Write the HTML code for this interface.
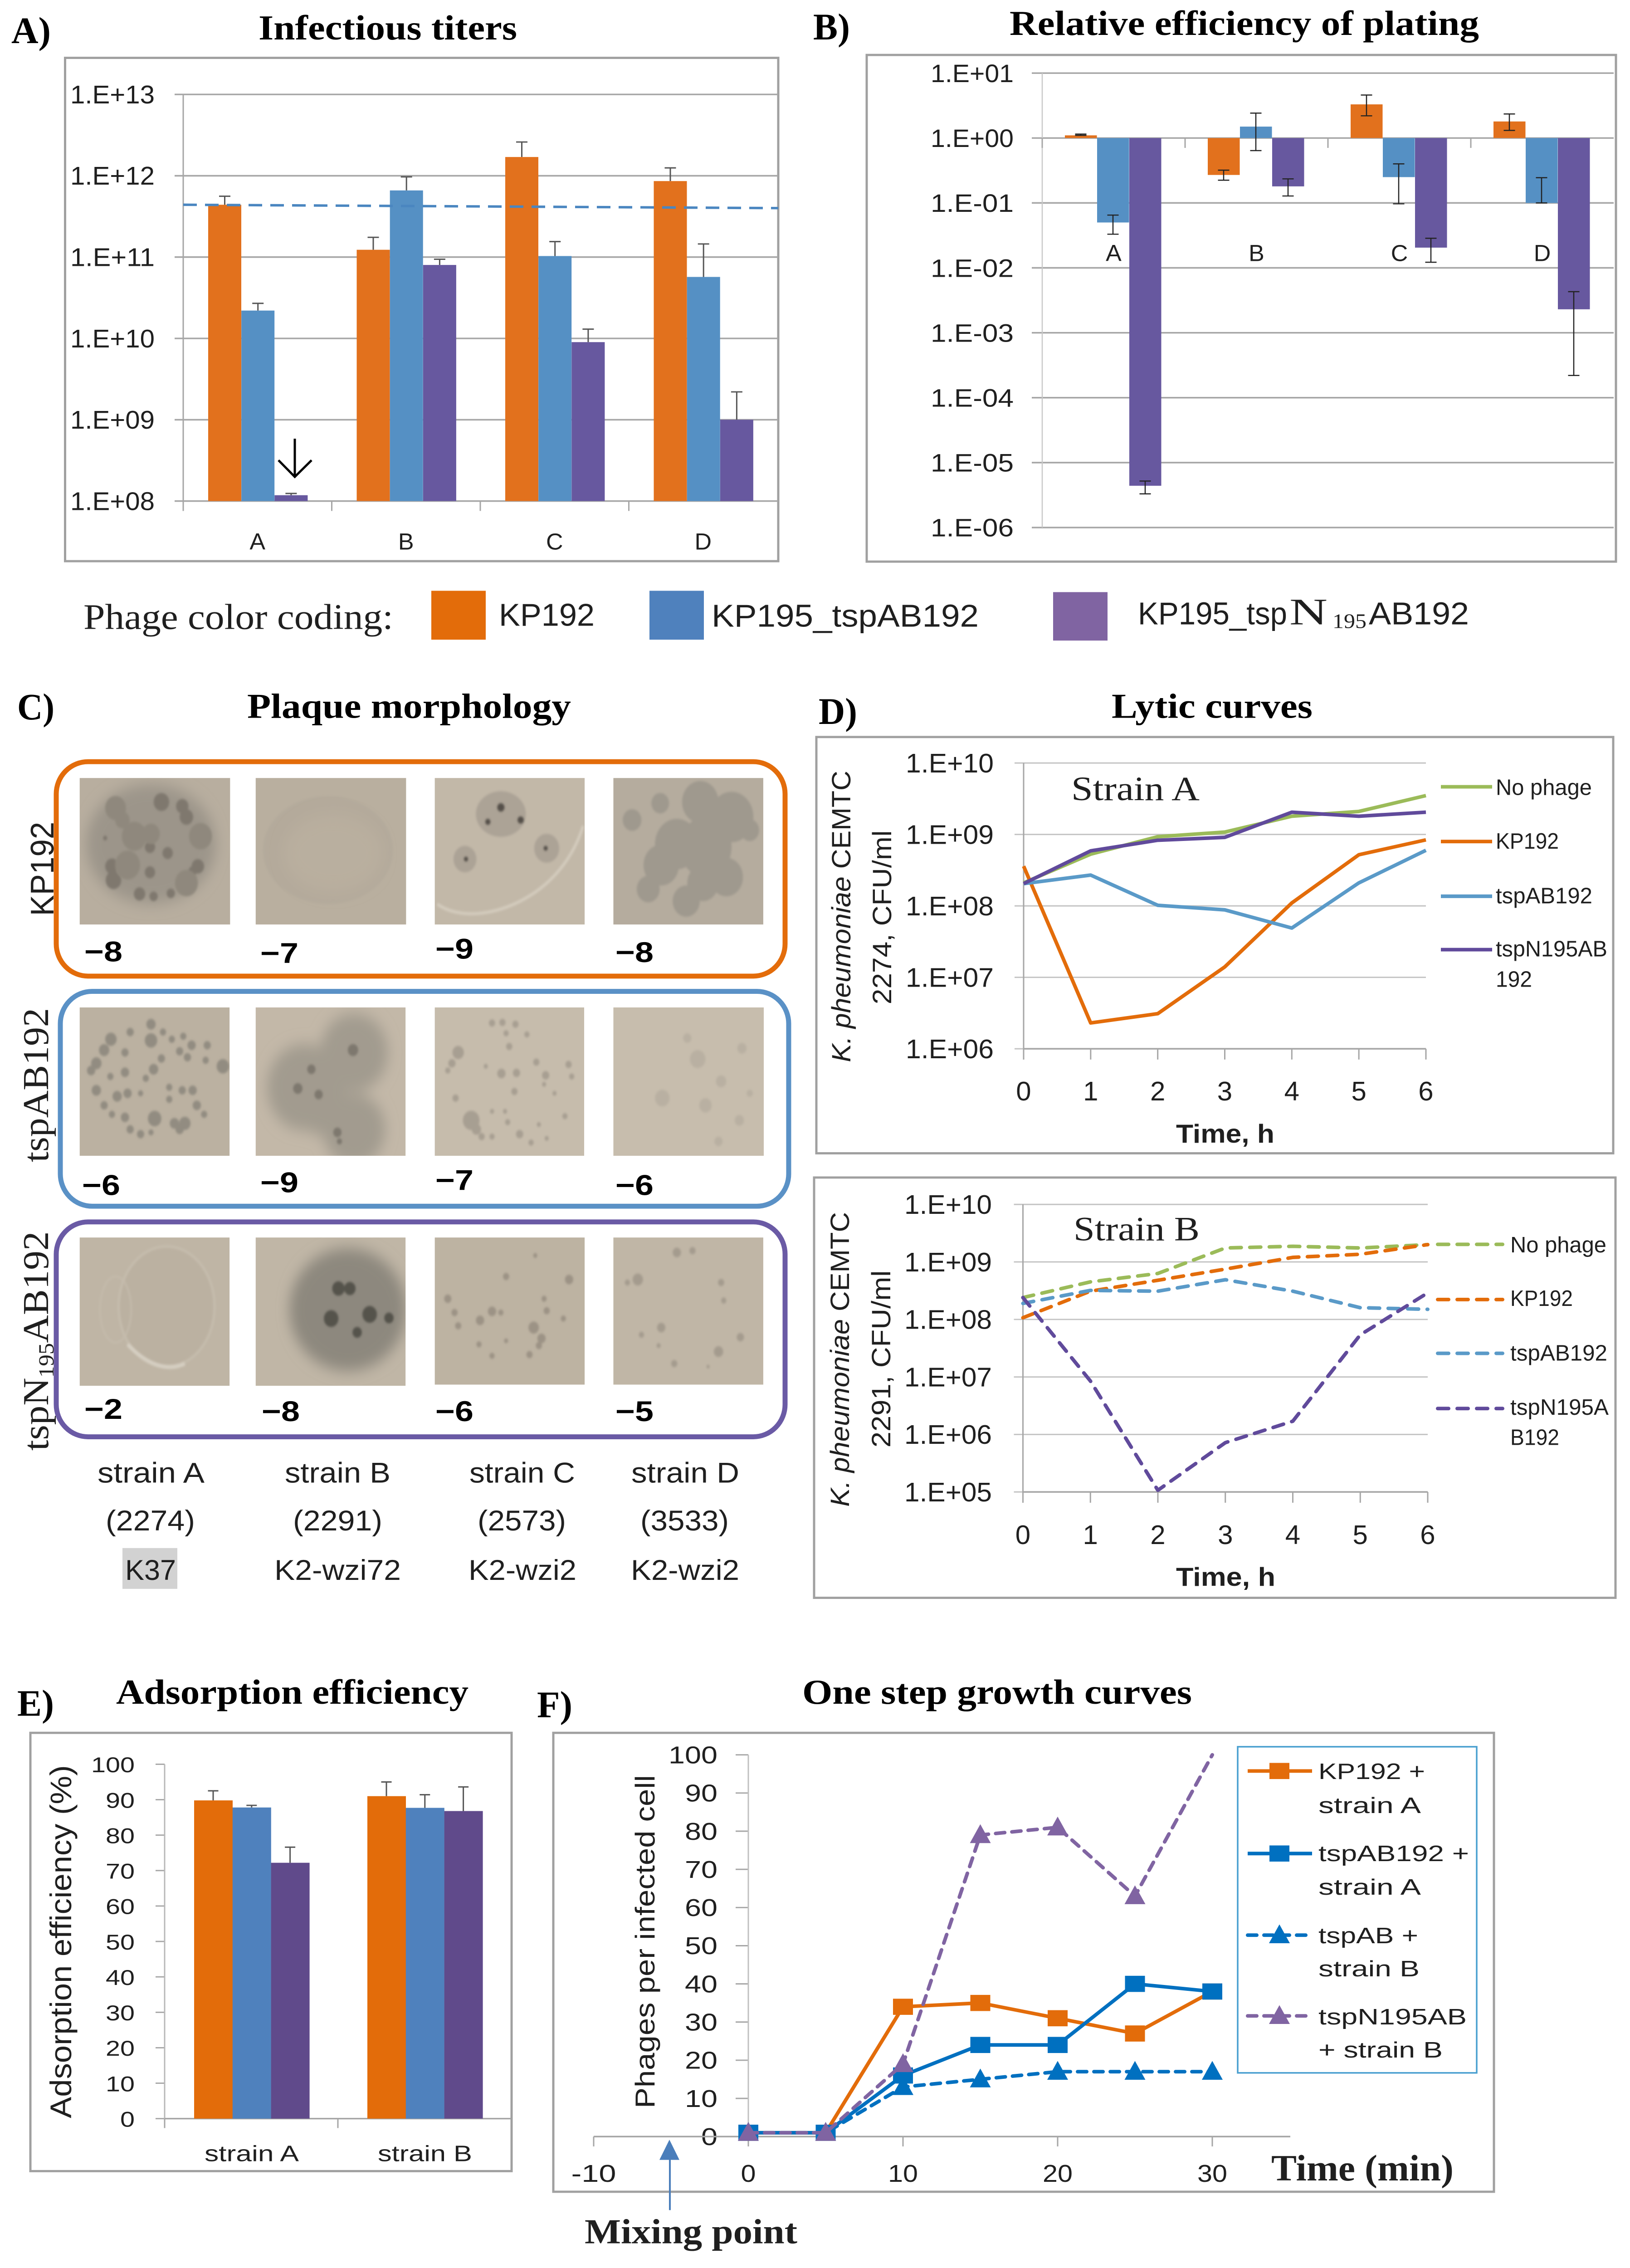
<!DOCTYPE html>
<html lang="en">
<head>
<meta charset="utf-8">
<title>Phage characterization figure</title>
<style>
html,body{margin:0;padding:0;background:#fff;width:3594px;overflow:hidden;}
svg#fig{display:block;overflow:hidden;}
text{fill:#1f1f1f;}
.sa{font-family:"Liberation Sans",sans-serif;}
.sr{font-family:"Liberation Serif",serif;}
.t{font-family:"Liberation Serif",serif;font-weight:bold;font-size:78px;fill:#000;}
.p{font-family:"Liberation Serif",serif;font-weight:bold;font-size:84px;fill:#000;}
.n{font-family:"Liberation Sans",sans-serif;font-weight:bold;font-size:64px;fill:#000;}
.s{font-family:"Liberation Sans",sans-serif;font-size:64px;}
.l{font-family:"Liberation Sans",sans-serif;font-size:50px;}
</style>
</head>
<body>
<svg id="fig" xmlns="http://www.w3.org/2000/svg" width="3594" height="5056" viewBox="0 0 3594 5056">
<defs>
<filter id="b2" x="-20%" y="-20%" width="140%" height="140%"><feGaussianBlur stdDeviation="2"/></filter>
<filter id="b12" x="-30%" y="-30%" width="160%" height="160%"><feGaussianBlur stdDeviation="12"/></filter>
</defs>
<rect width="3594" height="5056" fill="#fff"/>

<!-- Titles -->
<text class="p" x="25" y="96" textLength="87" lengthAdjust="spacingAndGlyphs">A)</text>
<text class="t" x="570" y="88" textLength="570" lengthAdjust="spacingAndGlyphs">Infectious titers</text>
<text class="p" x="1793" y="88" textLength="81" lengthAdjust="spacingAndGlyphs">B)</text>
<text class="t" x="2226" y="78" textLength="1035" lengthAdjust="spacingAndGlyphs">Relative efficiency of plating</text>
<text class="p" x="38" y="1604" textLength="82" lengthAdjust="spacingAndGlyphs">C)</text>
<text class="t" x="545" y="1600" textLength="714" lengthAdjust="spacingAndGlyphs">Plaque morphology</text>
<text class="p" x="1805" y="1614" textLength="85" lengthAdjust="spacingAndGlyphs">D)</text>
<text class="t" x="2451" y="1600" textLength="443" lengthAdjust="spacingAndGlyphs">Lytic curves</text>
<text class="p" x="38" y="3825" textLength="81" lengthAdjust="spacingAndGlyphs">E)</text>
<text class="t" x="256" y="3798" textLength="777" lengthAdjust="spacingAndGlyphs">Adsorption efficiency</text>
<text class="p" x="1184" y="3828" textLength="78" lengthAdjust="spacingAndGlyphs">F)</text>
<text class="t" x="1769" y="3798" textLength="859" lengthAdjust="spacingAndGlyphs">One step growth curves</text>

<!-- Chart frames -->
<rect x="143.5" y="129" width="1572.5" height="1122" fill="#fff" stroke="#a0a0a0" stroke-width="5"/>
<rect x="1911" y="122.5" width="1652" height="1129.5" fill="#fff" stroke="#a0a0a0" stroke-width="5"/>
<rect x="1800" y="1643" width="1757" height="928" fill="#fff" stroke="#a0a0a0" stroke-width="5"/>
<rect x="1795" y="2625" width="1767" height="937" fill="#fff" stroke="#a0a0a0" stroke-width="5"/>
<rect x="67" y="3863" width="1061" height="977" fill="#fff" stroke="#a0a0a0" stroke-width="5"/>
<rect x="1220" y="3863" width="2074" height="1023" fill="#fff" stroke="#a0a0a0" stroke-width="5"/>

<!-- Colour legend -->
<g>
<text class="sr" x="184" y="1402" font-size="80" textLength="683" lengthAdjust="spacingAndGlyphs">Phage color coding:</text>
<rect x="951" y="1317" width="120" height="109" fill="#e36c0a"/>
<text class="sa" x="1100" y="1395" font-size="70" textLength="211" lengthAdjust="spacingAndGlyphs">KP192</text>
<rect x="1432" y="1317" width="120" height="109" fill="#4f81bd"/>
<text class="sa" x="1569" y="1397" font-size="70" textLength="589" lengthAdjust="spacingAndGlyphs">KP195_tspAB192</text>
<rect x="2322" y="1320" width="120" height="108" fill="#8064a2"/>
<text class="sa" x="2509" y="1392" font-size="70" textLength="329" lengthAdjust="spacingAndGlyphs">KP195_tsp</text>
<text class="sr" x="2843" y="1392" font-size="84" textLength="84" lengthAdjust="spacingAndGlyphs">N</text>
<text class="sr" x="2938" y="1400" font-size="46" textLength="75" lengthAdjust="spacingAndGlyphs">195</text>
<text class="sa" x="3018" y="1392" font-size="70" textLength="221" lengthAdjust="spacingAndGlyphs">AB192</text>
</g>

<!-- Panel C frames and labels -->
<g>
<g transform="translate(0,1500) scale(1.148,1.339)">

<svg x="153" y="175" width="289" height="244" viewBox="153 175 289 244">
<rect x="153" y="175" width="289" height="244" fill="#b8ae9f"/>
<ellipse cx="290" cy="285" rx="125" ry="100" fill="#9c958a" filter="url(#b12)"/>
<g filter="url(#b2)" fill="#7f786e">
<circle cx="310" cy="215" r="15"/><circle cx="350" cy="222" r="12"/><circle cx="358" cy="240" r="13"/>
<circle cx="288" cy="290" r="10"/><circle cx="322" cy="300" r="10"/><circle cx="202" cy="275" r="4"/>
<circle cx="218" cy="345" r="15"/><circle cx="215" cy="322" r="13"/><circle cx="288" cy="332" r="10"/>
<circle cx="380" cy="322" r="12"/><circle cx="370" cy="330" r="8"/><circle cx="268" cy="368" r="11"/>
<circle cx="295" cy="372" r="8"/><circle cx="328" cy="367" r="8"/>
</g>
<g filter="url(#b2)" fill="#8f887d">
<circle cx="222" cy="225" r="20"/><circle cx="235" cy="245" r="14"/><circle cx="258" cy="272" r="24"/><circle cx="290" cy="268" r="17"/>
<circle cx="385" cy="272" r="22"/><circle cx="245" cy="320" r="24"/><circle cx="358" cy="350" r="22"/>
</g>
</svg>

<svg x="491" y="175" width="289" height="244" viewBox="491 175 289 244">
<rect x="491" y="175" width="289" height="244" fill="#b9af9f"/>
<ellipse cx="630" cy="295" rx="125" ry="90" fill="#b4aa9b" filter="url(#b2)"/>
<ellipse cx="640" cy="300" rx="95" ry="65" fill="#b9af9f" filter="url(#b12)"/>
</svg>

<svg x="835" y="175" width="288" height="244" viewBox="835 175 288 244">
<rect x="835" y="175" width="288" height="244" fill="#c2b8a8"/>
<path d="M840 385 C880 410 950 405 1010 375 C1060 350 1100 310 1120 255" fill="none" stroke="#d4ccbe" stroke-width="5" filter="url(#b2)"/>
<g filter="url(#b2)" fill="#aca396">
<ellipse cx="962" cy="235" rx="48" ry="38"/><circle cx="893" cy="310" r="22"/><circle cx="1050" cy="292" r="24"/>
</g>
<g filter="url(#b2)" fill="#55504a">
<circle cx="962" cy="224" r="7"/><circle cx="937" cy="248" r="5"/><circle cx="1000" cy="245" r="6"/><circle cx="895" cy="310" r="4"/><circle cx="1048" cy="292" r="4"/>
</g>
</svg>

<svg x="1178" y="175" width="288" height="244" viewBox="1178 175 288 244">
<rect x="1178" y="175" width="288" height="244" fill="#b5ac9e"/>
<g filter="url(#b2)" fill="#9f998e">
<circle cx="1214" cy="245" r="18"/><circle cx="1268" cy="217" r="17"/><circle cx="1345" cy="215" r="35"/>
<circle cx="1300" cy="285" r="42"/><circle cx="1405" cy="240" r="42"/><circle cx="1355" cy="290" r="50"/>
<circle cx="1270" cy="320" r="34"/><circle cx="1245" cy="360" r="22"/><circle cx="1318" cy="380" r="26"/><circle cx="1395" cy="340" r="32"/><circle cx="1350" cy="350" r="30"/><circle cx="1440" cy="262" r="18"/>
</g>
</svg>

<svg x="153" y="557" width="288" height="247" viewBox="153 557 288 247">
<rect x="153" y="557" width="288" height="247" fill="#bbb1a1"/>
<g filter="url(#b2)" fill="#928c81">
<circle cx="290" cy="585" r="9"/><circle cx="250" cy="598" r="7"/><circle cx="213" cy="610" r="11"/><circle cx="200" cy="628" r="10"/><circle cx="185" cy="650" r="10"/><circle cx="175" cy="662" r="8"/><circle cx="240" cy="632" r="7"/><circle cx="290" cy="612" r="12"/><circle cx="313" cy="598" r="6"/><circle cx="330" cy="610" r="6"/><circle cx="352" cy="605" r="6"/><circle cx="345" cy="630" r="7"/><circle cx="368" cy="620" r="8"/><circle cx="398" cy="620" r="7"/><circle cx="360" cy="640" r="7"/><circle cx="395" cy="645" r="6"/><circle cx="428" cy="655" r="12"/><circle cx="310" cy="642" r="7"/><circle cx="295" cy="660" r="9"/><circle cx="280" cy="675" r="6"/><circle cx="240" cy="665" r="8"/><circle cx="212" cy="672" r="6"/><circle cx="185" cy="695" r="9"/><circle cx="200" cy="720" r="7"/><circle cx="225" cy="705" r="9"/><circle cx="245" cy="700" r="8"/><circle cx="215" cy="735" r="6"/><circle cx="270" cy="700" r="5"/><circle cx="325" cy="690" r="6"/><circle cx="325" cy="710" r="6"/><circle cx="350" cy="695" r="7"/><circle cx="370" cy="695" r="8"/><circle cx="378" cy="720" r="8"/><circle cx="392" cy="735" r="6"/><circle cx="297" cy="742" r="13"/><circle cx="240" cy="740" r="8"/><circle cx="250" cy="760" r="7"/><circle cx="270" cy="768" r="7"/><circle cx="290" cy="765" r="5"/><circle cx="335" cy="750" r="9"/><circle cx="355" cy="750" r="11"/><circle cx="345" cy="760" r="8"/>
</g>
</svg>

<svg x="491" y="557" width="288" height="247" viewBox="491 557 288 247">
<rect x="491" y="557" width="288" height="247" fill="#c3b8a8"/>
<g filter="url(#b12)" fill="#a29b8f">
<circle cx="680" cy="632" r="65"/><circle cx="585" cy="690" r="72"/><circle cx="680" cy="760" r="60"/><circle cx="620" cy="720" r="50"/>
</g>
<g filter="url(#b2)" fill="#7e786e">
<circle cx="598" cy="660" r="8"/><circle cx="572" cy="692" r="9"/><circle cx="612" cy="702" r="8"/><circle cx="678" cy="628" r="10"/><circle cx="648" cy="765" r="8"/><circle cx="652" cy="780" r="5"/>
</g>
</svg>

<svg x="835" y="557" width="287" height="247" viewBox="835 557 287 247">
<rect x="835" y="557" width="287" height="247" fill="#c6bcac"/>
<g filter="url(#b2)" fill="#a79f92">
<circle cx="945" cy="583" r="6"/><circle cx="965" cy="582" r="6"/><circle cx="990" cy="585" r="6"/><circle cx="972" cy="600" r="5"/><circle cx="1012" cy="602" r="5"/><circle cx="978" cy="622" r="6"/><circle cx="880" cy="632" r="11"/><circle cx="868" cy="650" r="7"/><circle cx="860" cy="662" r="5"/><circle cx="933" cy="655" r="4"/><circle cx="963" cy="667" r="8"/><circle cx="992" cy="666" r="7"/><circle cx="1030" cy="648" r="6"/><circle cx="1048" cy="670" r="7"/><circle cx="1092" cy="652" r="6"/><circle cx="1098" cy="672" r="5"/><circle cx="1045" cy="685" r="4"/><circle cx="988" cy="697" r="6"/><circle cx="875" cy="708" r="6"/><circle cx="905" cy="745" r="16"/><circle cx="915" cy="760" r="9"/><circle cx="945" cy="730" r="4"/><circle cx="970" cy="730" r="4"/><circle cx="975" cy="748" r="5"/><circle cx="925" cy="772" r="6"/><circle cx="945" cy="772" r="5"/><circle cx="998" cy="768" r="7"/><circle cx="1020" cy="782" r="5"/><circle cx="1050" cy="775" r="4"/><circle cx="1085" cy="738" r="5"/><circle cx="1065" cy="700" r="4"/><circle cx="1035" cy="752" r="4"/>
</g>
</svg>

<svg x="1178" y="557" width="289" height="247" viewBox="1178 557 289 247">
<rect x="1178" y="557" width="289" height="247" fill="#c7bdad"/>
<g filter="url(#b2)" fill="#b9b0a2">
<circle cx="1272" cy="708" r="14"/><circle cx="1355" cy="720" r="12"/><circle cx="1340" cy="643" r="15"/><circle cx="1320" cy="608" r="8"/><circle cx="1425" cy="625" r="9"/><circle cx="1385" cy="680" r="10"/><circle cx="1420" cy="745" r="9"/><circle cx="1380" cy="780" r="8"/><circle cx="1440" cy="700" r="6"/>
</g>
</svg>

<svg x="153" y="940" width="288" height="247" viewBox="153 940 288 247">
<rect x="153" y="940" width="288" height="247" fill="#bfb5a5"/>
<ellipse cx="320" cy="1055" rx="92" ry="100" fill="#bbb1a1" stroke="#c6bdae" stroke-width="4" filter="url(#b2)"/>
<ellipse cx="222" cy="1060" rx="30" ry="55" fill="none" stroke="#c4bbac" stroke-width="3" filter="url(#b2)"/>
<path d="M245 1118 C280 1150 320 1165 355 1150" fill="none" stroke="#d6cfc2" stroke-width="6" filter="url(#b2)"/>
</svg>

<svg x="491" y="940" width="288" height="247" viewBox="491 940 288 247">
<rect x="491" y="940" width="288" height="247" fill="#c0b6a6"/>
<ellipse cx="668" cy="1060" rx="112" ry="102" fill="#8d887e" filter="url(#b12)"/>
<g filter="url(#b2)" fill="#55524c">
<circle cx="650" cy="1025" r="12"/><circle cx="672" cy="1025" r="11"/><circle cx="636" cy="1075" r="14"/><circle cx="710" cy="1068" r="14"/><circle cx="747" cy="1074" r="9"/><circle cx="686" cy="1098" r="9"/>
</g>
</svg>

<svg x="835" y="940" width="288" height="245" viewBox="835 940 288 245">
<rect x="835" y="940" width="288" height="245" fill="#bdb3a2"/>
<g filter="url(#b2)" fill="#9c9385">
<circle cx="972" cy="1005" r="6"/><circle cx="1093" cy="1010" r="8"/><circle cx="860" cy="1042" r="7"/><circle cx="873" cy="1065" r="6"/><circle cx="880" cy="1087" r="6"/><circle cx="922" cy="1078" r="8"/><circle cx="945" cy="1063" r="8"/><circle cx="962" cy="1065" r="5"/><circle cx="1025" cy="1090" r="10"/><circle cx="1040" cy="1108" r="8"/><circle cx="1035" cy="1120" r="6"/><circle cx="1045" cy="1042" r="5"/><circle cx="1050" cy="1062" r="6"/><circle cx="1082" cy="1075" r="5"/><circle cx="972" cy="1112" r="4"/><circle cx="1017" cy="1135" r="6"/><circle cx="945" cy="1137" r="5"/><circle cx="920" cy="1118" r="5"/><circle cx="1028" cy="970" r="4"/>
</g>
</svg>

<svg x="1178" y="940" width="288" height="245" viewBox="1178 940 288 245">
<rect x="1178" y="940" width="288" height="245" fill="#c0b6a6"/>
<g filter="url(#b2)" fill="#a49b8e">
<circle cx="1225" cy="1010" r="10"/><circle cx="1205" cy="1015" r="5"/><circle cx="1270" cy="1090" r="8"/><circle cx="1232" cy="1102" r="5"/><circle cx="1300" cy="965" r="8"/><circle cx="1330" cy="962" r="6"/><circle cx="1385" cy="1015" r="6"/><circle cx="1390" cy="1045" r="5"/><circle cx="1380" cy="1130" r="9"/><circle cx="1422" cy="1106" r="7"/><circle cx="1295" cy="1150" r="6"/><circle cx="1265" cy="1120" r="4"/><circle cx="1360" cy="1155" r="3"/>
</g>
</svg>
</g>

<rect x="124" y="1698" width="1607" height="478" rx="70" ry="72" fill="none" stroke="#e36c0a" stroke-width="11"/>
<rect x="133" y="2210" width="1606" height="479" rx="70" ry="72" fill="none" stroke="#5a91c6" stroke-width="11"/>
<rect x="124" y="2724" width="1607" height="479" rx="70" ry="72" fill="none" stroke="#6a5aa5" stroke-width="11"/>

<text class="sa" transform="translate(118,2042) rotate(-90)" font-size="72" textLength="210" lengthAdjust="spacingAndGlyphs">KP192</text>
<text class="sr" transform="translate(106,2591) rotate(-90)" font-size="80" textLength="344" lengthAdjust="spacingAndGlyphs">tspAB192</text>
<text class="sr" transform="translate(106,3234) rotate(-90)" font-size="80" textLength="489" lengthAdjust="spacingAndGlyphs">tspN<tspan font-size="48" dy="12">195</tspan><tspan dy="-12">AB192</tspan></text>

<g>
<text class="n" x="186" y="2143" textLength="84" lengthAdjust="spacingAndGlyphs">−8</text>
<text class="n" x="574" y="2147" textLength="84" lengthAdjust="spacingAndGlyphs">−7</text>
<text class="n" x="960" y="2137" textLength="84" lengthAdjust="spacingAndGlyphs">−9</text>
<text class="n" x="1357" y="2145" textLength="84" lengthAdjust="spacingAndGlyphs">−8</text>
<text class="n" x="181" y="2664" textLength="84" lengthAdjust="spacingAndGlyphs">−6</text>
<text class="n" x="574" y="2658" textLength="84" lengthAdjust="spacingAndGlyphs">−9</text>
<text class="n" x="960" y="2653" textLength="84" lengthAdjust="spacingAndGlyphs">−7</text>
<text class="n" x="1357" y="2664" textLength="84" lengthAdjust="spacingAndGlyphs">−6</text>
<text class="n" x="186" y="3163" textLength="84" lengthAdjust="spacingAndGlyphs">−2</text>
<text class="n" x="577" y="3168" textLength="84" lengthAdjust="spacingAndGlyphs">−8</text>
<text class="n" x="960" y="3168" textLength="84" lengthAdjust="spacingAndGlyphs">−6</text>
<text class="n" x="1357" y="3168" textLength="84" lengthAdjust="spacingAndGlyphs">−5</text>
</g>

<rect x="270" y="3451" width="121" height="91" fill="#d2d2d2"/>
<g>
<text class="s" x="215" y="3305" textLength="236" lengthAdjust="spacingAndGlyphs">strain A</text>
<text class="s" x="628" y="3305" textLength="233" lengthAdjust="spacingAndGlyphs">strain B</text>
<text class="s" x="1035" y="3305" textLength="233" lengthAdjust="spacingAndGlyphs">strain C</text>
<text class="s" x="1392" y="3305" textLength="238" lengthAdjust="spacingAndGlyphs">strain D</text>
<text class="s" x="233" y="3412" textLength="197" lengthAdjust="spacingAndGlyphs">(2274)</text>
<text class="s" x="646" y="3412" textLength="197" lengthAdjust="spacingAndGlyphs">(2291)</text>
<text class="s" x="1053" y="3412" textLength="195" lengthAdjust="spacingAndGlyphs">(2573)</text>
<text class="s" x="1412" y="3412" textLength="195" lengthAdjust="spacingAndGlyphs">(3533)</text>
<text class="s" x="276" y="3522" textLength="112" lengthAdjust="spacingAndGlyphs">K37</text>
<text class="s" x="605" y="3522" textLength="279" lengthAdjust="spacingAndGlyphs">K2-wzi72</text>
<text class="s" x="1033" y="3522" textLength="238" lengthAdjust="spacingAndGlyphs">K2-wzi2</text>
<text class="s" x="1391" y="3522" textLength="239" lengthAdjust="spacingAndGlyphs">K2-wzi2</text>
</g>
</g>

<!-- Panel D static labels -->
<g>
<text class="sr" x="2362" y="1784" font-size="76" textLength="283" lengthAdjust="spacingAndGlyphs">Strain A</text>
<text class="sr" x="2367" y="2765" font-size="76" textLength="278" lengthAdjust="spacingAndGlyphs">Strain B</text>
<text class="sa" transform="translate(1875,2368) rotate(-90)" font-size="58" textLength="650" lengthAdjust="spacingAndGlyphs"><tspan font-style="italic">K. pheumoniae</tspan> CEMTC</text>
<text class="sa" transform="translate(1965,2239) rotate(-90)" font-size="58" textLength="388" lengthAdjust="spacingAndGlyphs">2274, CFU/ml</text>
<text class="sa" transform="translate(1872,3359) rotate(-90)" font-size="58" textLength="657" lengthAdjust="spacingAndGlyphs"><tspan font-style="italic">K. pheumoniae</tspan> CEMTC</text>
<text class="sa" transform="translate(1963,3227) rotate(-90)" font-size="58" textLength="395" lengthAdjust="spacingAndGlyphs">2291, CFU/ml</text>
<text class="sa" x="2593" y="2547" font-size="58" font-weight="bold" textLength="217" lengthAdjust="spacingAndGlyphs">Time, h</text>
<text class="sa" x="2593" y="3535" font-size="58" font-weight="bold" textLength="219" lengthAdjust="spacingAndGlyphs">Time, h</text>
</g>
<g fill="none" stroke-width="8">
<line x1="3177" x2="3290" y1="1754" y2="1754" stroke="#9bbb59"/>
<line x1="3177" x2="3290" y1="1876" y2="1876" stroke="#e36c0a"/>
<line x1="3177" x2="3290" y1="1998" y2="1998" stroke="#5a9ac8"/>
<line x1="3177" x2="3290" y1="2117" y2="2117" stroke="#604a9b"/>
</g>
<text class="l" x="3298" y="1772" textLength="212" lengthAdjust="spacingAndGlyphs">No phage</text>
<text class="l" x="3298" y="1892" textLength="139" lengthAdjust="spacingAndGlyphs">KP192</text>
<text class="l" x="3298" y="2014" textLength="213" lengthAdjust="spacingAndGlyphs">tspAB192</text>
<text class="l" x="3298" y="2132" textLength="246" lengthAdjust="spacingAndGlyphs">tspN195AB</text>
<text class="l" x="3298" y="2200" textLength="80" lengthAdjust="spacingAndGlyphs">192</text>
<g fill="none" stroke-width="8" stroke-dasharray="24 19" stroke-linecap="round">
<line x1="3170" x2="3313" y1="2774" y2="2774" stroke="#9bbb59"/>
<line x1="3170" x2="3313" y1="2897" y2="2897" stroke="#e36c0a"/>
<line x1="3170" x2="3313" y1="3017" y2="3017" stroke="#5a9ac8"/>
<line x1="3170" x2="3313" y1="3140" y2="3140" stroke="#604a9b"/>
</g>
<text class="l" x="3330" y="2792" textLength="212" lengthAdjust="spacingAndGlyphs">No phage</text>
<text class="l" x="3330" y="2911" textLength="138" lengthAdjust="spacingAndGlyphs">KP192</text>
<text class="l" x="3330" y="3033" textLength="214" lengthAdjust="spacingAndGlyphs">tspAB192</text>
<text class="l" x="3330" y="3154" textLength="217" lengthAdjust="spacingAndGlyphs">tspN195A</text>
<text class="l" x="3330" y="3221" textLength="108" lengthAdjust="spacingAndGlyphs">B192</text>

<!-- Panel E, F static labels -->
<text class="sa" transform="translate(157,4722) rotate(-90)" font-size="66" textLength="787" lengthAdjust="spacingAndGlyphs">Adsorption efficiency (%)</text>
<text class="sa" transform="translate(1443,4700) rotate(-90)" font-size="60" textLength="743" lengthAdjust="spacingAndGlyphs">Phages per infected cell</text>
<text class="sr" x="2803" y="4861" font-size="82" font-weight="bold" textLength="402" lengthAdjust="spacingAndGlyphs" fill="#000">Time (min)</text>
<text class="sr" x="1289" y="5001" font-size="78" font-weight="bold" textLength="469" lengthAdjust="spacingAndGlyphs">Mixing point</text>
<g>
<line x1="1477" x2="1477" y1="4810" y2="4927" stroke="#4a7ebb" stroke-width="4"/>
<polygon points="1476,4770 1498,4815 1454,4815" fill="#4a7ebb"/>
</g>
<rect x="2729" y="3894" width="527" height="727" fill="#fff" stroke="#4aa0d0" stroke-width="3.5"/>
<g class="sa">
<text class="l" x="2907" y="3966" textLength="235" lengthAdjust="spacingAndGlyphs">KP192 +</text>
<text class="l" x="2907" y="4042" textLength="226" lengthAdjust="spacingAndGlyphs">strain A</text>
<text class="l" x="2907" y="4149" textLength="332" lengthAdjust="spacingAndGlyphs">tspAB192 +</text>
<text class="l" x="2907" y="4224" textLength="226" lengthAdjust="spacingAndGlyphs">strain A</text>
<text class="l" x="2907" y="4332" textLength="220" lengthAdjust="spacingAndGlyphs">tspAB +</text>
<text class="l" x="2907" y="4406" textLength="223" lengthAdjust="spacingAndGlyphs">strain B</text>
<text class="l" x="2907" y="4513" textLength="327" lengthAdjust="spacingAndGlyphs">tspN195AB</text>
<text class="l" x="2907" y="4587" textLength="274" lengthAdjust="spacingAndGlyphs">+ strain B</text>
</g>

<g id="charts"></g>
</svg>

<script>
// ---------- Panel A: infectious titers ----------
const aCategories = ['A', 'B', 'C', 'D'];
const aTickLabels = ['1.E+08', '1.E+09', '1.E+10', '1.E+11', '1.E+12', '1.E+13'];
const aKP192 = [4.4e11, 1.23e11, 1.7e12, 8.6e11];
const aKP192Err = [5.6e11, 1.75e11, 2.6e12, 1.25e12];
const aTspAB = [2.2e10, 6.6e11, 1.03e11, 5.7e10];
const aTspABErr = [2.7e10, 9.7e11, 1.55e11, 1.45e11];
const aTspN = [1.18e8, 8.0e10, 9.0e9, 1.0e9];
const aTspNErr = [1.24e8, 9.4e10, 1.3e10, 2.2e9];
const aDashedRef = [4.4e11, 4.0e11];

// ---------- Panel B: relative efficiency of plating ----------
const bCategories = ['A', 'B', 'C', 'D'];
const bTickLabels = ['1.E+01', '1.E+00', '1.E-01', '1.E-02', '1.E-03', '1.E-04', '1.E-05', '1.E-06'];
const bKP192 = [1.1, 0.27, 3.3, 1.8];
const bKP192Hi = [1.15, 0.32, 4.6, 2.35];
const bKP192Lo = [1.1, 0.224, 2.2, 1.31];
const bTspAB = [0.05, 1.5, 0.25, 0.1];
const bTspABHi = [0.065, 2.42, 0.40, 0.245];
const bTspABLo = [0.033, 0.64, 0.097, 0.1];
const bTspN = [4.4e-6, 0.18, 0.0205, 0.0023];
const bTspNHi = [5.2e-6, 0.235, 0.0286, 0.0043];
const bTspNLo = [3.3e-6, 0.128, 0.0122, 0.00022];

// ---------- Panel D: lytic curves ----------
const dHours = [0, 1, 2, 3, 4, 5, 6];
const dTopTickLabels = ['1.E+06', '1.E+07', '1.E+08', '1.E+09', '1.E+10'];
const dTopNoPhage = [2.1e8, 5.3e8, 9.3e8, 1.08e9, 1.8e9, 2.1e9, 3.5e9];
const dTopKP192 = [3.6e8, 2.3e6, 3.1e6, 1.4e7, 1.1e8, 5.2e8, 8.4e8];
const dTopTspAB = [2.05e8, 2.7e8, 1.02e8, 8.8e7, 4.9e7, 2.1e8, 6.0e8];
const dTopTspN = [2.05e8, 5.9e8, 8.3e8, 9.1e8, 2.05e9, 1.8e9, 2.05e9];
const dBottomTickLabels = ['1.E+05', '1.E+06', '1.E+07', '1.E+08', '1.E+09', '1.E+10'];
const dBottomNoPhage = [2.4e8, 4.5e8, 6.3e8, 1.75e9, 1.87e9, 1.75e9, 2.0e9];
const dBottomKP192 = [1.07e8, 3.1e8, 4.8e8, 7.5e8, 1.2e9, 1.36e9, 2.0e9];
const dBottomTspAB = [1.9e8, 3.2e8, 3.1e8, 4.9e8, 3.1e8, 1.6e8, 1.5e8];
const dBottomTspN = [2.4e8, 8.5e6, 1.07e5, 7.2e5, 1.7e6, 5.4e7, 2.9e8];

// ---------- Panel E: adsorption efficiency ----------
const eCategories = ['strain A', 'strain B'];
const eTickLabels = ['0', '10', '20', '30', '40', '50', '60', '70', '80', '90', '100'];
const eKP192 = [89.8, 91];
const eKP192Err = [92.5, 95];
const eTspAB = [87.8, 87.7];
const eTspABErr = [88.4, 91.4];
const eTspN = [72.2, 86.8];
const eTspNErr = [76.6, 93.6];

// ---------- Panel F: one step growth ----------
const fTimes = [0, 5, 10, 15, 20, 25, 30];
const fXTickLabels = ['-10', '0', '10', '20', '30'];
const fYTickLabels = ['0', '10', '20', '30', '40', '50', '60', '70', '80', '90', '100'];
const fKP192A = [1, 1, 34, 35, 31, 27, 38];
const fTspAB192A = [1, 1, 16, 24, 24, 40, 38];
const fTspABB = [1, 1, 13, 15, 17, 17, 17];
const fTspNB = [1, 1, 19, 79, 81, 63, 100];

// ---------- helpers ----------
const NS = 'http://www.w3.org/2000/svg';
const layer = document.getElementById('charts');
const ORANGE = '#e2711d', BLUE = '#5590c4', PURPLE = '#67589f';

function mk(parent, tag, attrs, name) {
  const el = document.createElementNS(NS, tag);
  for (const k in attrs) el.setAttribute(k, attrs[k]);
  
  
  parent.appendChild(el);
  return el;
}
function group(name) { return mk(layer, 'g', {}, name); }
function line(p, x1, y1, x2, y2, stroke, w, name, extra) {
  return mk(p, 'line', Object.assign({ x1, y1, x2, y2, stroke, 'stroke-width': w }, extra || {}), name);
}
function label(p, str, x, y, size, anchor, len, name) {
  const attrs = { x, y, 'font-size': size, 'text-anchor': anchor, 'font-family': '"Liberation Sans",sans-serif' };
  if (len) { attrs.textLength = len; attrs.lengthAdjust = 'spacingAndGlyphs'; }
  const el = mk(p, 'text', attrs, name);
  el.textContent = str;
  return el;
}
function logScale(vMin, vMax, yMin, yMax) {
  const a = Math.log10(vMin), b = Math.log10(vMax);
  return v => yMin + (Math.log10(v) - a) / (b - a) * (yMax - yMin);
}
function linScale(vMin, vMax, pMin, pMax) {
  return v => pMin + (v - vMin) / (vMax - vMin) * (pMax - pMin);
}

function drawBar(p, x, w, y0, y1, fill, name) {
  mk(p, 'rect', { x, y: Math.min(y0, y1), width: w, height: Math.abs(y1 - y0), fill }, name);
}
function drawErr(p, cx, yA, yB, capW, stroke, sw, name, bothCaps) {
  const g = mk(p, 'g', {}, name);
  line(g, cx, yA, cx, yB, stroke, sw, 'error-bar-stem');
  line(g, cx - capW / 2, yB, cx + capW / 2, yB, stroke, sw, 'error-bar-cap');
  if (bothCaps) line(g, cx - capW / 2, yA, cx + capW / 2, yA, stroke, sw, 'error-bar-cap');
}
function polyline(p, xs, ys, stroke, w, dash, name) {
  const attrs = { points: xs.map((x, i) => x + ',' + ys[i]).join(' '), fill: 'none', stroke, 'stroke-width': w, 'stroke-linejoin': 'round' };
  if (dash) { attrs['stroke-dasharray'] = dash; attrs['stroke-linecap'] = 'round'; }
  return mk(p, 'polyline', attrs, name);
}

// ---------- Panel A ----------
(function () {
  const g = group('infectious-titers-chart');
  const y = logScale(1e8, 1e13, 1117, 210.5);
  const left = 404, right = 1716, step = 327.5;
  aTickLabels.forEach(t => {
    const v = Number(t);
    line(g, 385, y(v), right, y(v), '#a6a6a6', 3.5, 'y-gridline');
    label(g, t, 341, y(v) + 20, 57, 'end', 186, 'y-tick-label');
  });
  line(g, left, 210.5, left, 1139, '#a6a6a6', 3, 'y-axis');
  aCategories.forEach((c, i) => {
    const x0 = left + i * step;
    line(g, x0, 1117, x0, 1139, '#a6a6a6', 3, 'x-tick');
    label(g, c, x0 + step / 2, 1225, 52, 'middle', null, 'x-tick-label');
    [[aKP192, aKP192Err, ORANGE, 'kp192'], [aTspAB, aTspABErr, BLUE, 'tspab192'], [aTspN, aTspNErr, PURPLE, 'tspn195ab192']].forEach((s, k) => {
      const x = x0 + 55 + k * 73.2;
      drawErr(g, x + 36.5, y(s[0][i]), y(s[1][i]), 25, '#555', 3, 'error-bar-' + s[3]);
      drawBar(g, x, 73, y(1e8), y(s[0][i]), s[2], 'bar-' + s[3]);
    });
  });
  line(g, left, y(aDashedRef[0]), right, y(aDashedRef[1]), '#4a86c0', 5.5, 'reference-dashed-line', { 'stroke-dasharray': '30 18' });
  const ag = mk(g, 'g', {}, 'arrow-strain-a');
  line(ag, 650, 1060, 650, 978, '#000', 5, 'arrow-shaft');
  mk(ag, 'polyline', { points: '614,1026 650,1063 687,1026', fill: 'none', stroke: '#000', 'stroke-width': 5 }, 'arrow-head');
})();

// ---------- Panel B ----------
(function () {
  const g = group('relative-efficiency-chart');
  const y = logScale(1e-6, 10, 1176, 163);
  const left = 2298, right = 3558, step = 315;
  bTickLabels.forEach(t => {
    const v = Number(t);
    line(g, 2275, y(v), right, y(v), '#a6a6a6', 3.5, 'y-gridline');
    label(g, t, 2235, y(v) + 20, 56, 'end', 183, 'y-tick-label');
  });
  line(g, left, 163, left, 1176, '#c8c8c8', 2.5, 'y-axis');
  bCategories.forEach((c, i) => {
    const x0 = left + i * step;
    line(g, x0 , y(1), x0, y(1) + 22, '#a6a6a6', 3, 'x-tick');
    [[bKP192, bKP192Hi, bKP192Lo, ORANGE, 'kp192'], [bTspAB, bTspABHi, bTspABLo, BLUE, 'tspab192'], [bTspN, bTspNHi, bTspNLo, PURPLE, 'tspn195ab192']].forEach((s, k) => {
      const x = x0 + 50 + k * 71;
      drawBar(g, x, 70.5, y(1), y(s[0][i]), s[3], 'bar-' + s[4]);
    });
  });
  bCategories.forEach((c, i) => {
    const x0 = left + i * step;
    [[bKP192Hi, bKP192Lo, 'kp192'], [bTspABHi, bTspABLo, 'tspab192'], [bTspNHi, bTspNLo, 'tspn195ab192']].forEach((s, k) => {
      const x = x0 + 50 + k * 71 + 35;
      drawErr(g, x, y(s[1][i]), y(s[0][i]), 25, '#222', 2.5, 'error-bar-' + s[2], true);
    });
    label(g, c, x0 + step / 2, 582, 52, 'middle', null, 'x-tick-label');
  });
})();

// ---------- Panel D ----------
function lytic(name, tickLabels, yMinPx, yMaxPx, xLeft, xRight, tickRight, labelLen, xLabelY, series, dash) {
  const g = group(name);
  const vals = tickLabels.map(Number);
  const y = logScale(vals[0], vals[vals.length - 1], yMinPx, yMaxPx);
  const x = linScale(dHours[0], dHours[dHours.length - 1], xLeft, xRight);
  tickLabels.forEach(t => {
    const v = Number(t);
    line(g, xLeft - 20, y(v), xRight, y(v), '#c4c4c4', 3, 'y-gridline');
    label(g, t, tickRight, y(v) + 21, 60, 'end', labelLen, 'y-tick-label');
  });
  line(g, xLeft, yMaxPx, xLeft, yMinPx + 24, '#a6a6a6', 3, 'y-axis');
  line(g, xLeft, yMinPx, xRight, yMinPx, '#a6a6a6', 3.5, 'x-axis');
  dHours.forEach(h => {
    line(g, x(h), yMinPx, x(h), yMinPx + 24, '#a6a6a6', 3, 'x-tick');
    label(g, String(h), x(h), xLabelY, 60, 'middle', null, 'x-tick-label');
  });
  series.forEach(s => {
    polyline(g, dHours.map(x), s[0].map(y), s[1], 8, dash, s[2]);
  });
}
lytic('lytic-curve-strain-a', dTopTickLabels, 2338, 1701, 2257, 3144, 2191, 194, 2453, [
  [dTopNoPhage, '#9bbb59', 'line-no-phage'],
  [dTopKP192, '#e36c0a', 'line-kp192'],
  [dTopTspAB, '#5a9ac8', 'line-tspab192'],
  [dTopTspN, '#604a9b', 'line-tspn195ab192']
], null);
lytic('lytic-curve-strain-b', dBottomTickLabels, 3326, 2685, 2255.5, 3148, 2187, 193, 3442, [
  [dBottomNoPhage, '#9bbb59', 'line-no-phage'],
  [dBottomKP192, '#e36c0a', 'line-kp192'],
  [dBottomTspAB, '#5a9ac8', 'line-tspab192'],
  [dBottomTspN, '#604a9b', 'line-tspn195ab192']
], '24 19');

// ---------- Panel E ----------
(function () {
  const g = group('adsorption-efficiency-chart');
  const y = linScale(0, 100, 4723, 3933);
  const left = 363, right = 1126, step = 382;
  eTickLabels.forEach(t => {
    const v = Number(t);
    line(g, 343, y(v), left, y(v), '#a6a6a6', 3, 'y-tick');
    label(g, t, 297, y(v) + 18, 48, 'end', t.length * 32, 'y-tick-label');
  });
  line(g, left, 3933, left, 4744, '#b8b8b8', 3, 'y-axis');
  line(g, left, 4723, right, 4723, '#a6a6a6', 3.5, 'x-axis');
  eCategories.forEach((c, i) => {
    const x0 = left + i * step;
    line(g, x0, 4723, x0, 4744, '#a6a6a6', 3, 'x-tick');
    label(g, c, x0 + 192, 4818, 50, 'middle', 208, 'x-tick-label');
    [[eKP192, eKP192Err, '#e36c0a', 'kp192'], [eTspAB, eTspABErr, '#4f81bd', 'tspab192'], [eTspN, eTspNErr, '#604a8b', 'tspn195ab192']].forEach((s, k) => {
      const x = x0 + 65 + k * 84.8;
      drawErr(g, x + 42, y(s[0][i]), y(s[1][i]), 23, '#555', 3, 'error-bar-' + s[3]);
      drawBar(g, x, 85, y(0), y(s[0][i]), s[2], 'bar-' + s[3]);
    });
  });
})();

// ---------- Panel F ----------
(function () {
  const g = group('one-step-growth-chart');
  const y = linScale(0, 100, 4763, 3912);
  const x = linScale(-10, 30, 1309, 2673);
  fYTickLabels.forEach(t => {
    const v = Number(t);
    line(g, 1622, y(v), x(0), y(v), '#a6a6a6', 3, 'y-tick');
    label(g, t, 1582, y(v) + 19, 54, 'end', t.length * 36, 'y-tick-label');
  });
  line(g, x(0), 3912, x(0), 4785, '#c0c0c0', 3, 'y-axis');
  line(g, x(-10), 4763, 2845, 4763, '#a6a6a6', 3.5, 'x-axis');
  fXTickLabels.forEach(t => {
    const v = Number(t);
    line(g, x(v), 4763, x(v), 4785, '#a6a6a6', 3, 'x-tick');
    label(g, t, x(v), 4864, 54, 'middle', t.length * 33, 'x-tick-label');
  });
  const specs = [
    [fKP192A, '#e36c0a', null, 'square', 'kp192-strain-a', 3948],
    [fTspAB192A, '#0070c0', null, 'square', 'tspab192-strain-a', 4132],
    [fTspABB, '#0070c0', '20 16', 'triangle', 'tspab-strain-b', 4314],
    [fTspNB, '#8064a2', '20 16', 'triangle', 'tspn195ab-strain-b', 4494]
  ];
  function marker(kind, cx, cy, fill, name) {
    if (kind === 'square') {
      mk(g, 'rect', { x: cx - 22, y: cy - 18, width: 44, height: 36, fill }, name);
    } else {
      mk(g, 'polygon', { points: cx + ',' + (cy - 24) + ' ' + (cx + 23) + ',' + (cy + 18) + ' ' + (cx - 23) + ',' + (cy + 18), fill }, name);
    }
  }
  specs.forEach(s => {
    polyline(g, fTimes.map(x), s[0].map(y), s[1], 8, s[2], 'line-' + s[4]);
    s[0].forEach((v, i) => {
      if (v < 100) marker(s[3], x(fTimes[i]), y(v), s[1], 'point-' + s[4]);
    });
  });
  specs.forEach(s => {
    const attrs = {};
    if (s[2]) { attrs['stroke-dasharray'] = s[2]; attrs['stroke-linecap'] = 'round'; }
    line(g, 2751, s[5], 2893, s[5], s[1], 8, 'legend-line-' + s[4], attrs);
    marker(s[3], 2821, s[5], s[1], 'legend-marker-' + s[4]);
  });
})();

// ---------- Fit the full figure when the viewport is a little shorter than the frame ----------
(function () {
  const vh = window.innerHeight;
  const fig = document.getElementById('fig');
  const h = (vh >= 4000 && vh < 5056) ? vh : 5056;
  if (h !== 5056) {
    fig.setAttribute('height', h);
    fig.setAttribute('preserveAspectRatio', 'none');
  }
  document.documentElement.style.height = h + 'px';
  document.body.style.height = h + 'px';
})();
</script>
</body>
</html>
